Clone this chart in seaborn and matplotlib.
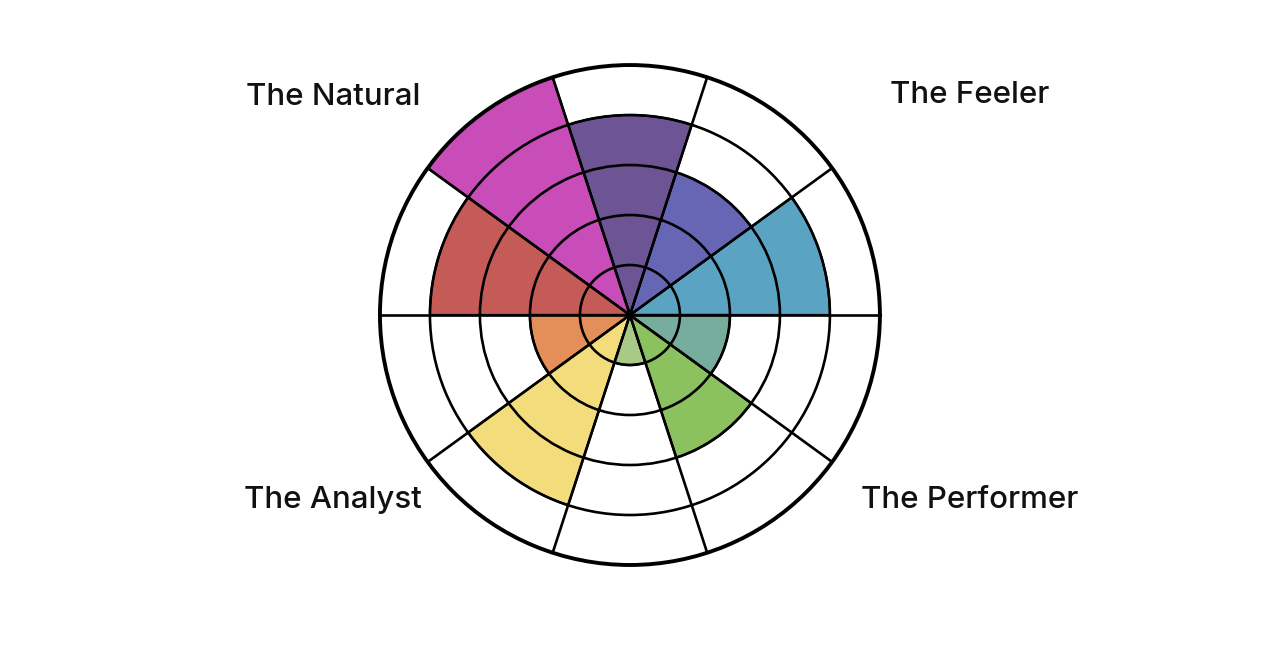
import numpy as np
import matplotlib
matplotlib.use("Agg")
import matplotlib.pyplot as plt
import seaborn as sns

# sectors, counter-clockwise from 3 o'clock, 36 degrees each
sector_start_deg = [0, 36, 72, 108, 144, 180, 216, 252, 288, 324]
sector_values = [4, 3, 4, 5, 4, 2, 4, 1, 3, 2]
sector_colors = ["#5BA3C2", "#6766B5", "#6C5495", "#C84DB8", "#C45B57",
                 "#E48E5A", "#F3DC7B", "#A9C986", "#8BC15F", "#77AD9D"]

quadrant_labels = ["The Natural", "The Feeler", "The Analyst", "The Performer"]

sns.set_style("white")
plt.rcParams["font.family"] = ["Inter", "DejaVu Sans"]

fig = plt.figure(figsize=(12.78, 6.52), dpi=100)
ax = fig.add_axes([0.2973, 0.1334, 0.3912, 0.7669], projection="polar")

palette = sns.color_palette(sector_colors)
theta = np.deg2rad(sector_start_deg)
ax.bar(theta, sector_values, width=np.deg2rad(36), align="edge",
       color=palette, edgecolor="black", linewidth=1.6, zorder=1)

ax.set_ylim(0, 5)
ax.set_rgrids([1, 2, 3, 4], labels=[""] * 4)
ax.set_thetagrids(sector_start_deg, labels=[""] * len(sector_start_deg))
ax.set_axisbelow(False)
ax.grid(True, color="black", linewidth=1.9)
ax.spines["polar"].set_linewidth(2.8)
ax.spines["polar"].set_color("black")

label_pos = [(333, 97), (970, 95), (333, 500), (970, 500)]
for txt, (px, py) in zip(quadrant_labels, label_pos):
    fig.text(px / 1278, 1 - py / 652, txt, ha="center", va="center",
             fontsize=22.5, fontweight="medium", color="#111111")

fig.savefig("out.png", dpi=100)
